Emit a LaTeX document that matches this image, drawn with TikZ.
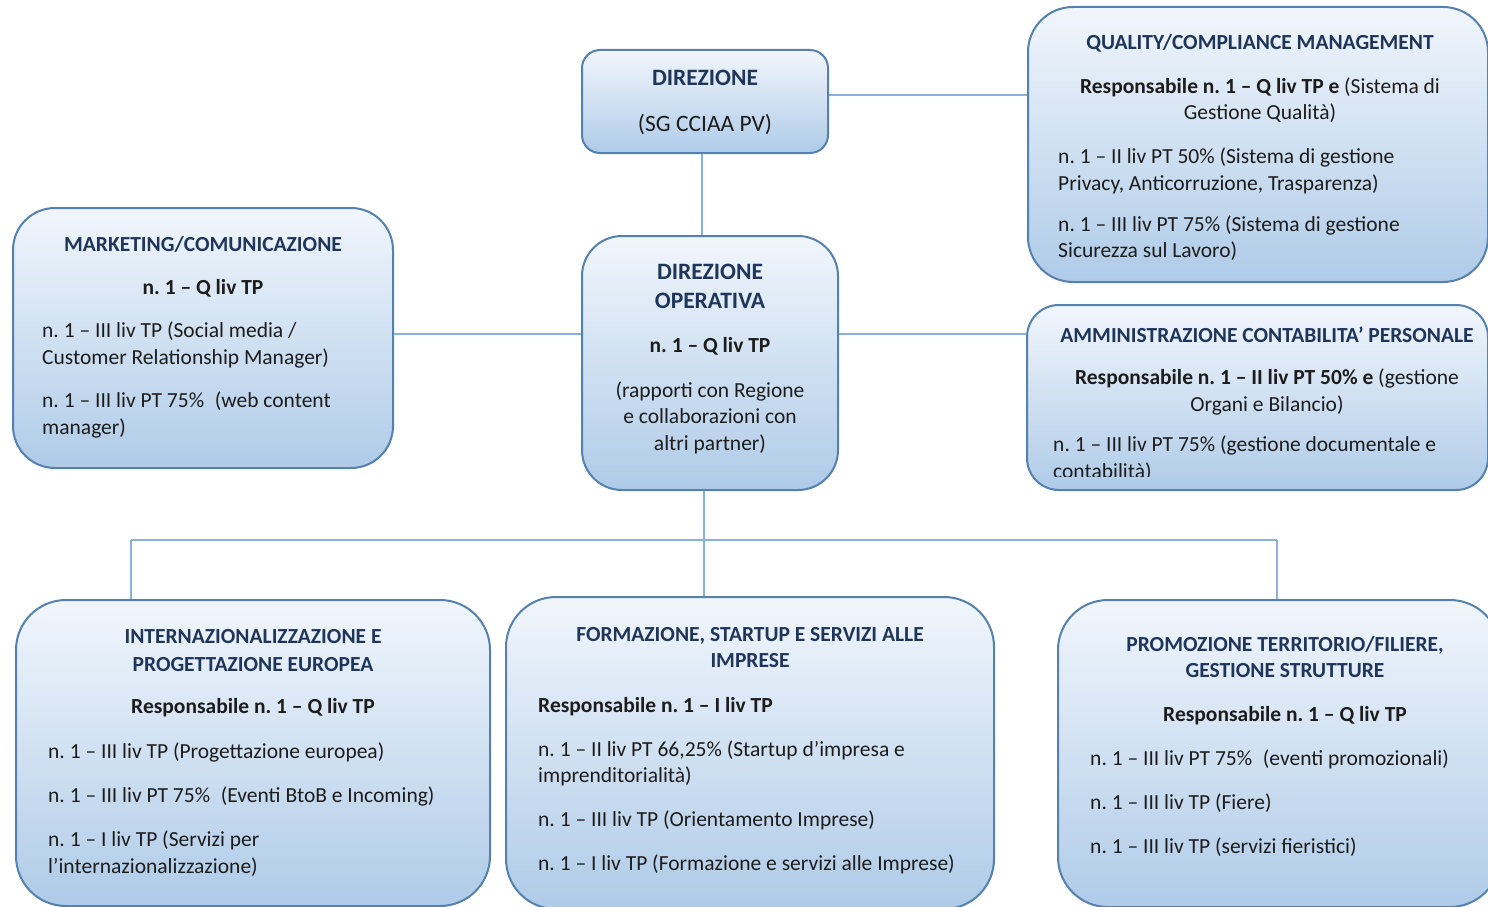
\documentclass[tikz,border=0pt]{standalone}
\usepackage{fontspec}
\setmainfont{Carlito}
\usepackage{tikz}
\usetikzlibrary{positioning}
\definecolor{boxline}{HTML}{5581AE}
\definecolor{boxtop}{HTML}{F1F6FC}
\definecolor{boxbot}{HTML}{AFCBE8}
\definecolor{linkblue}{HTML}{8AB0DD}
\definecolor{navy}{HTML}{1F3559}
\definecolor{ink}{HTML}{1C1C1C}
\newcommand{\hd}[2][21.5]{{\fontsize{#1}{26.5}\selectfont\bfseries\color{navy}#2}}
\frenchspacing
\tikzset{
x=1pt, y=-1pt, % one unit is one pixel of the chart, y grows downwards
unitbox/.style={draw=boxline, line width=2pt, top color=boxtop, bottom color=boxbot, rounded corners=#1}, % the rounded office boxes
unitbox/.default=42pt,
link/.style={draw=linkblue, line width=1.3pt}, % thin connectors between offices
txt/.style={inner sep=0pt, text=ink, font=\fontsize{21.5}{26.5}\selectfont},
ctr/.style={txt, align=center, anchor=north}, % centred headings
lft/.style={txt, align=left, anchor=north west}, % staff lists
}

\begin{document}
\begin{tikzpicture}
    \useasboundingbox (0,0) rectangle (1488,907);
    \fill[white] (0,0) rectangle (1488,907);
    \clip (0,0) rectangle (1488,907);

    % office boxes
    \node[unitbox=18pt, minimum width=246pt, minimum height=103pt] (dir) at (705,101.5) {};
    \node[unitbox=40pt, minimum width=256pt, minimum height=254pt] (op) at (710,363) {};
    \node[unitbox, minimum width=380pt, minimum height=260pt] (mkt) at (203,338) {};
    \node[unitbox=45pt, minimum width=460pt, minimum height=275pt] (qual) at (1258,144.5) {};
    \node[unitbox=32pt, minimum width=461pt, minimum height=185pt] (amm) at (1257.5,397.5) {};
    \node[unitbox=50pt, minimum width=474pt, minimum height=306pt] (intz) at (253,753) {};
    \node[unitbox=50pt, minimum width=488pt, minimum height=312pt] (form) at (750,753) {};
    \node[unitbox=50pt, minimum width=442pt, minimum height=307pt] (promo) at (1279,753.5) {};

    % connectors
    \path ([yshift=6.5pt]dir.east) coordinate (dq)
          ([yshift=29pt]op.west) coordinate (ow)
          ([yshift=29pt]op.east) coordinate (oe);
    \coordinate (busl) at (131,540);
    \coordinate (busr) at (1277,540);
    \draw[link] (dq) -- (dq -| qual.west)
                ([xshift=-3pt]dir.south) -- ([xshift=-3pt]dir.south |- op.north)
                (ow) -- (ow -| mkt.east)
                (oe) -- (oe -| amm.west)
                ([xshift=-6pt]op.south) -- ([xshift=-6pt]op.south |- form.north)
                (busl) -- (busr)
                (busl) -- (busl |- intz.north)
                (busr) -- (busr |- promo.north);

    % texts
    \node[ctr] (dirtxt) at (705,70) {\hd[23.5]{DIREZIONE}\\[19.5pt]{\fontsize{23.5}{26.5}\selectfont (SG CCIAA PV)}};
    \node[ctr] (optxt) at (710,264) {\hd[23.5]{DIREZIONE}\\[2pt]\hd[23.5]{OPERATIVA}\\[17.5pt]\textbf{n. 1 -- Q liv TP}\\[18.5pt]%
        (rapporti con Regione\\e collaborazioni con\\altri partner)};

    \node[ctr] (qhead) at (1260,34) {\hd{QUALITY/COMPLIANCE MANAGEMENT}\\[17.5pt]%
        \textbf{Responsabile n. 1 -- Q liv TP e} (Sistema di\\Gestione Qualità)};
    \node[lft] (qbody) at (1058,148) {n. 1 -- II liv PT 50\% (Sistema di gestione\\Privacy, Anticorruzione, Trasparenza)\\[14.5pt]%
        n. 1 -- III liv PT 75\% (Sistema di gestione\\Sicurezza sul Lavoro)};

    \node[ctr] (mhead) at (203,236) {\hd{MARKETING/COMUNICAZIONE}\\[17pt]\textbf{n. 1 -- Q liv TP}};
    \node[lft] (mbody) at (42,322) {n. 1 -- III liv TP (Social media /\\Customer Relationship Manager)\\[17pt]%
        n. 1 -- III liv PT 75\%\enspace(web content\\manager)};

    \node[ctr] (ahead) at (1267,327) {\hd{AMMINISTRAZIONE CONTABILITA’ PERSONALE}\\[15.5pt]%
        \textbf{Responsabile n. 1 -- II liv PT 50\% e} (gestione\\Organi e Bilancio)};
    \begin{scope}
        \clip (1030,300) rectangle (1488,476);
        \node[lft] (abody) at (1053,436) {n. 1 -- III liv PT 75\% (gestione documentale e\\contabilità)};
    \end{scope}

    \node[ctr] (ihead) at (253,629) {\hd{INTERNAZIONALIZZAZIONE E}\\[1.5pt]\hd{PROGETTAZIONE EUROPEA}\\[15.5pt]%
        \textbf{Responsabile n. 1 -- Q liv TP}};
    \node[lft] (ibody) at (48,743) {n. 1 -- III liv TP (Progettazione europea)\\[17.5pt]%
        n. 1 -- III liv PT 75\%\enspace(Eventi BtoB e Incoming)\\[17.5pt]%
        n. 1 -- I liv TP (Servizi per\\l’internazionalizzazione)};

    \node[ctr] (fhead) at (750,627) {\hd{FORMAZIONE, STARTUP E SERVIZI ALLE}\\\hd{IMPRESE}};
    \node[lft] (fbody) at (538,697) {\textbf{Responsabile n. 1 -- I liv TP}\\[17.5pt]%
        n. 1 -- II liv PT 66,25\% (Startup d’impresa e\\imprenditorialità)\\[17.5pt]%
        n. 1 -- III liv TP (Orientamento Imprese)\\[17.5pt]%
        n. 1 -- I liv TP (Formazione e servizi alle Imprese)};

    \node[ctr] (phead) at (1285,636) {\hd{PROMOZIONE TERRITORIO/FILIERE,}\\\hd{GESTIONE STRUTTURE}\\[17.5pt]%
        \textbf{Responsabile n. 1 -- Q liv TP}};
    \node[lft] (pbody) at (1090,750) {n. 1 -- III liv PT 75\%\enspace(eventi promozionali)\\[17.5pt]%
        n. 1 -- III liv TP (Fiere)\\[17.5pt]%
        n. 1 -- III liv TP (servizi fieristici)};
\end{tikzpicture}
\end{document}
